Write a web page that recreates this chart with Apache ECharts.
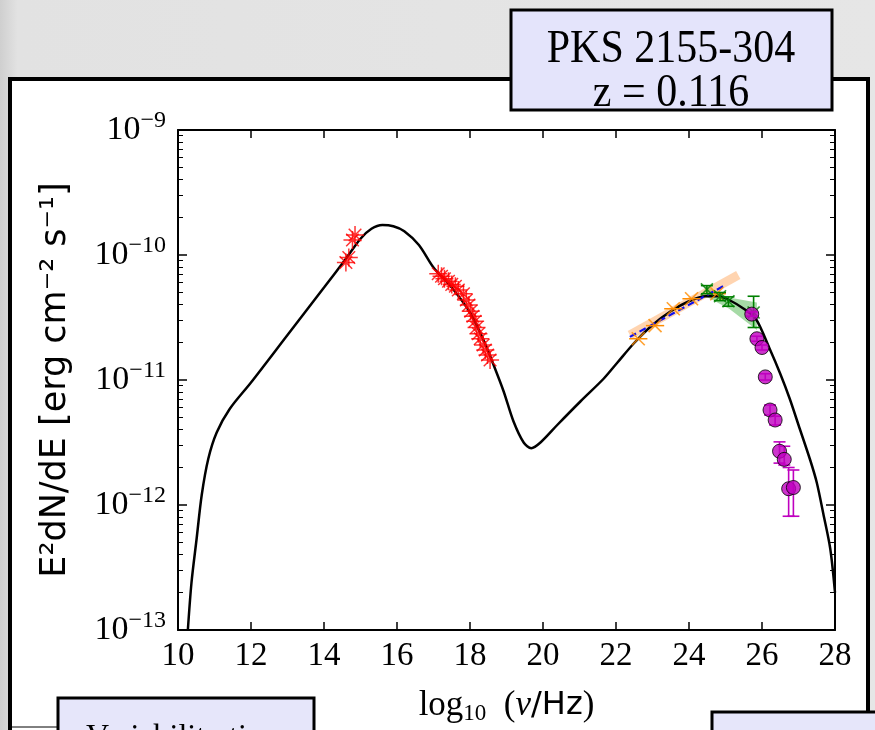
<!DOCTYPE html>
<html>
<head>
<meta charset="utf-8">
<script src="https://cdn.jsdelivr.net/npm/echarts@6/dist/echarts.min.js"></script>
<style>
  html, body { margin: 0; padding: 0; background: #fff; }
  #chart { width: 875px; height: 730px; }
</style>
</head>
<body>
<div id="chart"></div>
<script>
// all values are log10(nu/Hz) and log10(E^2 dN/dE)

// SSC model curve
const modelX = [10.27, 10.37, 10.51, 10.65, 10.83, 11.06, 11.42, 12.0, 13.0, 14.0, 14.6, 15.0, 15.3, 15.6, 15.9, 16.2, 16.6, 17.0, 17.5, 18.0, 18.4, 18.62, 18.92, 19.19, 19.47, 19.68, 19.93, 20.39, 21.03, 21.66, 22.04, 22.51, 23.0, 23.5, 24.0, 24.45, 24.8, 25.1, 25.5, 25.83, 26.21, 26.5, 26.76, 27.0, 27.32, 27.5, 27.68, 27.87, 28.0];
const modelY = [-13.0, -12.62, -12.27, -11.92, -11.63, -11.42, -11.23, -11.02, -10.64, -10.26, -10.03, -9.87, -9.79, -9.76, -9.77, -9.81, -9.92, -10.10, -10.26, -10.46, -10.70, -10.86, -11.09, -11.33, -11.50, -11.545, -11.50, -11.36, -11.17, -10.99, -10.86, -10.70, -10.56, -10.45, -10.37, -10.33, -10.33, -10.36, -10.43, -10.51, -10.75, -10.95, -11.15, -11.36, -11.64, -11.82, -12.07, -12.35, -12.7];

// optical + X-ray (red asterisks)
const redX = [14.60, 14.68, 14.78, 14.85, 17.13, 17.22, 17.30, 17.41, 17.50, 17.60, 17.68, 17.82, 17.90, 17.97, 18.02, 18.08, 18.14, 18.18, 18.23, 18.28, 18.36, 18.42, 18.48, 18.55];
const redY = [-10.06, -10.02, -9.88, -9.84, -10.15, -10.17, -10.19, -10.21, -10.235, -10.25, -10.28, -10.31, -10.36, -10.40, -10.45, -10.49, -10.53, -10.58, -10.63, -10.67, -10.72, -10.76, -10.80, -10.84];

// Fermi (orange crosses, bin half width in log nu)
const fermiX = [22.61, 23.07, 23.57, 24.07, 24.76];
const fermiY = [-10.67, -10.565, -10.43, -10.35, -10.31];
const fermiHalfBin = 0.25;
const fermiBandX = [22.38, 25.35];
const fermiBandY = [-10.64, -10.16];
const fitX = [22.38, 25.0];
const fitY = [-10.655, -10.24];

// green points and butterfly
const greenX = [24.49, 24.85, 25.08, 25.77];
const greenY = [-10.275, -10.33, -10.37, -10.46];
const greenLo = [-10.31, -10.365, -10.41, -10.58];
const greenHi = [-10.245, -10.30, -10.335, -10.33];
const greenBandX = [24.45, 25.1, 25.86];
const greenBandHi = [-10.25, -10.34, -10.38];
const greenBandLo = [-10.33, -10.43, -10.60];

// H.E.S.S. (magenta circles)
const hessX = [25.72, 25.86, 26.0, 26.09, 26.22, 26.36, 26.48, 26.61, 26.73, 26.86];
const hessY = [-10.473, -10.67, -10.74, -10.975, -11.24, -11.32, -11.57, -11.635, -11.87, -11.86];
const hessLo = [-10.49, -10.69, -10.76, -11.0, -11.28, -11.36, -11.665, -11.68, -12.09, -12.09];
const hessHi = [-10.455, -10.65, -10.72, -10.95, -11.2, -11.29, -11.495, -11.53, -11.70, -11.72];

const xTicks = [10, 12, 14, 16, 18, 20, 22, 24, 26, 28];
const yDecades = [-13, -12, -11, -10, -9];

const zip = (a, b) => a.map((v, i) => [v, b[i]]);
const minorTicks = [];
for (const n of yDecades.slice(0, -1)) {
  for (let k = 2; k <= 9; k++) minorTicks.push(n + Math.log10(k));
}

const serif = 'Liberation Serif';
const sans = 'DejaVu Sans';

function vErr(color, cap, width) {
  return function (params, api) {
    const x = api.value(0);
    const a = api.coord([x, api.value(1)]);
    const b = api.coord([x, api.value(2)]);
    const st = { stroke: color, lineWidth: width };
    return {
      type: 'group',
      children: [
        { type: 'line', shape: { x1: a[0], y1: a[1], x2: b[0], y2: b[1] }, style: st },
        { type: 'line', shape: { x1: a[0] - cap, y1: a[1], x2: a[0] + cap, y2: a[1] }, style: st },
        { type: 'line', shape: { x1: b[0] - cap, y1: b[1], x2: b[0] + cap, y2: b[1] }, style: st }
      ]
    };
  };
}

function hErr(params, api) {
  const y = api.value(2);
  const a = api.coord([api.value(0), y]);
  const b = api.coord([api.value(1), y]);
  return {
    type: 'line',
    shape: { x1: a[0], y1: a[1], x2: b[0], y2: b[1] },
    style: { stroke: '#ff8c00', lineWidth: 1.5 }
  };
}

function greenBand(params, api) {
  if (params.dataIndex !== 0) return null;
  const pts = [];
  greenBandX.forEach((x, i) => pts.push(api.coord([x, greenBandHi[i]])));
  for (let i = greenBandX.length - 1; i >= 0; i--) pts.push(api.coord([greenBandX[i], greenBandLo[i]]));
  return { type: 'polygon', shape: { points: pts }, style: { fill: 'rgba(0,150,0,0.35)' } };
}

const chart = echarts.init(document.getElementById('chart'));

const tickStyle = { color: '#000', width: 1.5 };
const yBase = { type: 'value', min: -13, max: -9, interval: 1, splitLine: { show: false } };

const option = {
  animation: false,
  textStyle: { fontFamily: serif },
  grid: { left: 178, right: 40, top: 130, bottom: 95 },
  graphic: [
    { type: 'rect', z: -10, shape: { x: 0, y: 0, width: 875, height: 730 },
      style: { fill: new echarts.graphic.LinearGradient(0, 0, 1, 0, [
        { offset: 0, color: '#cfcfcf' }, { offset: 0.02, color: '#e2e2e2' }, { offset: 1, color: '#e6e6e6' }]) } },
    { type: 'rect', z: -9, shape: { x: 10, y: 79, width: 858, height: 700 },
      style: { fill: '#fff', stroke: '#000', lineWidth: 4 } },
    { type: 'rect', z: -9, shape: { x: 866, y: 79, width: 4, height: 651 }, style: { fill: '#000' } },
    { type: 'line', z: -9, shape: { x1: 10, y1: 727, x2: 58, y2: 727 }, style: { stroke: '#000', lineWidth: 1 } },
    { type: 'rect', z: 50, shape: { x: 511, y: 10, width: 321, height: 100 },
      style: { fill: '#e4e4fb', stroke: '#000', lineWidth: 3 } },
    { type: 'text', z: 51, x: 671, y: 50, scaleY: 1.12,
      style: { text: 'PKS 2155-304', fontFamily: serif, fontSize: 42, fill: '#000', align: 'center', verticalAlign: 'middle' } },
    { type: 'text', z: 51, x: 671, y: 94, scaleY: 1.12,
      style: { text: 'z = 0.116', fontFamily: serif, fontSize: 42, fill: '#000', align: 'center', verticalAlign: 'middle' } },
    { type: 'rect', z: 50, shape: { x: 58, y: 698, width: 256, height: 60 },
      style: { fill: '#e6e6fa', stroke: '#000', lineWidth: 3 } },
    { type: 'text', z: 51, x: 186, y: 738,
      style: { text: 'Variability time', fontFamily: serif, fontSize: 32, fill: '#000', align: 'center', verticalAlign: 'middle' } },
    { type: 'rect', z: 50, shape: { x: 712, y: 712, width: 170, height: 60 },
      style: { fill: '#e6e6fa', stroke: '#000', lineWidth: 3 } }
  ],
  xAxis: [
    {
      type: 'value', min: 10, max: 28, interval: 2, position: 'bottom',
      axisLine: { lineStyle: { color: '#000', width: 2 } },
      axisTick: { inside: true, length: 8, lineStyle: tickStyle },
      axisLabel: { fontFamily: serif, fontSize: 33, color: '#000', margin: 10, customValues: xTicks },
      splitLine: { show: false },
      name: '{a|log}{sub|10}{a|  (}{i|ν}{h|/Hz}{a|)}',
      nameLocation: 'middle', nameGap: 56,
      nameTextStyle: {
        rich: {
          a: { fontFamily: serif, fontSize: 35, color: '#000' },
          sub: { fontFamily: serif, fontSize: 23, color: '#000', verticalAlign: 'bottom', padding: [16, 0, 0, 0] },
          i: { fontFamily: serif, fontStyle: 'italic', fontSize: 35, color: '#000' },
          h: { fontFamily: sans, fontSize: 32, color: '#000' }
        }
      }
    },
    {
      type: 'value', min: 10, max: 28, interval: 2, position: 'top',
      axisLine: { lineStyle: { color: '#000', width: 2 } },
      axisTick: { inside: true, length: 8, lineStyle: tickStyle },
      axisLabel: { show: false },
      splitLine: { show: false }
    }
  ],
  yAxis: [
    Object.assign({}, yBase, {
      position: 'left',
      axisLine: { show: true, lineStyle: { color: '#000', width: 2 } },
      axisTick: { inside: true, length: 9, lineStyle: tickStyle },
      axisLabel: {
        margin: 12,
        formatter: v => '{b|10}{s|−' + Math.abs(v) + '}',
        rich: {
          b: { fontFamily: serif, fontSize: 34, color: '#000', lineHeight: 42 },
          s: { fontFamily: serif, fontSize: 24, color: '#000', verticalAlign: 'top', lineHeight: 24 }
        }
      },
      name: 'E²dN/dE [erg cm⁻² s⁻¹]',
      nameLocation: 'middle', nameGap: 105, nameRotate: 90,
      nameTextStyle: { fontFamily: sans, fontSize: 35, color: '#000' }
    }),
    Object.assign({}, yBase, {
      position: 'left',
      axisLine: { show: false },
      axisTick: { inside: true, length: 5, lineStyle: { color: '#000', width: 1 }, customValues: minorTicks },
      axisLabel: { show: false }
    }),
    Object.assign({}, yBase, {
      position: 'right',
      axisLine: { show: true, lineStyle: { color: '#000', width: 2 } },
      axisTick: { inside: true, length: 9, lineStyle: tickStyle },
      axisLabel: { show: false }
    }),
    Object.assign({}, yBase, {
      position: 'right',
      axisLine: { show: false },
      axisTick: { inside: true, length: 5, lineStyle: { color: '#000', width: 1 }, customValues: minorTicks },
      axisLabel: { show: false }
    })
  ],
  series: [
    {
      type: 'line', data: zip(fermiBandX, fermiBandY), symbol: 'none', z: 2,
      lineStyle: { color: 'rgba(255,160,80,0.45)', width: 9, cap: 'butt' }
    },
    {
      type: 'custom', data: greenBandX.map((x, i) => [x, greenBandLo[i], greenBandHi[i]]),
      renderItem: greenBand, z: 2
    },
    {
      type: 'line', data: zip(modelX, modelY), symbol: 'none', smooth: 0.3, z: 3,
      lineStyle: { color: '#000', width: 2.5 }
    },
    {
      type: 'line', data: zip(fitX, fitY), symbol: 'none', z: 4,
      lineStyle: { color: '#1010ee', width: 2.2, type: [7, 4] }
    },
    {
      type: 'scatter', data: zip(redX, redY), z: 5,
      symbol: 'path://M0,5L10,5M5,0L5,10M1.5,1.5L8.5,8.5M8.5,1.5L1.5,8.5', symbolSize: 18,
      itemStyle: { color: 'transparent', borderColor: '#ff0000', borderWidth: 1.5 }
    },
    {
      type: 'custom', data: fermiX.map((x, i) => [x - fermiHalfBin, x + fermiHalfBin, fermiY[i]]),
      renderItem: hErr, z: 5
    },
    {
      type: 'scatter', data: zip(fermiX, fermiY), z: 5,
      symbol: 'path://M0,0L10,10M10,0L0,10', symbolSize: 13,
      itemStyle: { color: 'transparent', borderColor: '#ff8c00', borderWidth: 1.7 }
    },
    {
      type: 'custom', data: greenX.map((x, i) => [x, greenLo[i], greenHi[i]]),
      renderItem: vErr('#008000', 6, 1.6), z: 6
    },
    {
      type: 'scatter', data: zip(greenX, greenY), z: 6,
      symbol: 'path://M0,0L10,10M10,0L0,10', symbolSize: 12,
      itemStyle: { color: 'transparent', borderColor: '#008000', borderWidth: 1.7 }
    },
    {
      type: 'custom', data: hessX.map((x, i) => [x, hessLo[i], hessHi[i]]),
      renderItem: vErr('#bf00bf', 6, 1.6), z: 7
    },
    {
      type: 'scatter', data: zip(hessX, hessY), z: 8,
      symbol: 'circle', symbolSize: 14,
      itemStyle: { color: '#bf00bf', borderColor: '#000', borderWidth: 1 }
    }
  ]
};

chart.setOption(option);
</script>
</body>
</html>
